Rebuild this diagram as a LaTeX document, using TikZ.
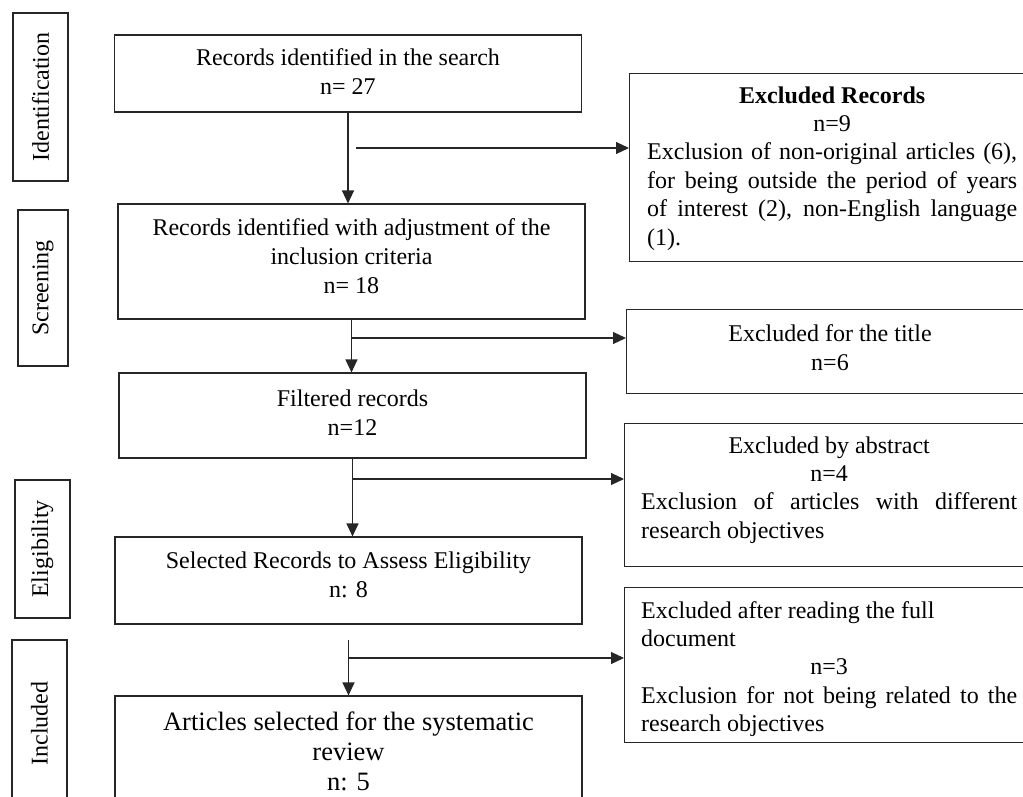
\documentclass[tikz,border=0pt]{standalone}
\usepackage{fontspec}
\setmainfont{Liberation Serif}
\usetikzlibrary{arrows.meta}
\tolerance=10000
\hbadness=10000
\hyphenpenalty=10000
\newcommand\lowpad[1]{\rule[-#1]{0pt}{#1}}
\newenvironment{exblock}[1]{\begin{minipage}[t]{#1}\fontsize{24}{28.4}\selectfont}{\end{minipage}}
\begin{document}
\begin{tikzpicture}[x=1pt,y=-1pt,
  every node/.style={font=\fontsize{24}{29}\selectfont},
  mainbox/.style={draw=black!85, line width=1.1pt, minimum width=467pt, align=center, inner sep=0pt},
  exbox/.style={draw=black!85, line width=1.1pt, minimum width=420pt, inner sep=0pt, anchor=north west},
  phase/.style={draw=black!85, line width=1.1pt, rotate=90, inner sep=0pt},
  extext/.style={inner sep=0pt, anchor=base west},
  flow/.style={draw=black!85, line width=1.1pt, -{Triangle[length=13pt,width=12pt]}},
]
\useasboundingbox (0,0) rectangle (1023,796);
\clip (0,0) rectangle (1023,796);

% phase labels
\node[phase, minimum width=168pt, minimum height=55pt] (p1) at (40.5,97) {Identification};
\node[phase, minimum width=156pt, minimum height=50pt] (p2) at (43,288) {Screening};
\node[phase, minimum width=138pt, minimum height=55pt] (p3) at (42.5,549) {Eligibility};
\node[phase, minimum width=167pt, minimum height=55pt] (p4) at (39.5,723.5) {Included};

% main flow boxes
\node[mainbox, minimum height=77pt] (b1) at (348,73.5) {Records identified in the search\\n= 27\lowpad{4pt}};
\node[mainbox, minimum height=115pt] (b2) at (351.5,261.5) {Records identified with adjustment of the\\inclusion criteria\\n= 18\lowpad{10pt}};
\node[mainbox, minimum height=85pt] (b3) at (352.5,415.5) {Filtered records\\n=12\lowpad{6pt}};
\node[mainbox, minimum height=87pt] (b4) at (348.5,580.5) {Selected Records to Assess Eligibility\\n: 8\lowpad{11pt}};
\node[mainbox, minimum height=110pt, font=\fontsize{26.5}{30}\selectfont] (b5) at (348.5,751) {Articles selected for the systematic\\review\\n: 5};

% exclusion boxes
\node[exbox, minimum height=188pt] (ex1) at (629,73) {};
\node[exbox, minimum height=84pt] (ex2) at (626,309) {};
\node[exbox, minimum height=143pt] (ex3) at (624,423) {};
\node[exbox, minimum height=155pt] (ex4) at (624,587) {};

\node[extext] (t1) at (647,103) {\begin{exblock}{370pt}{\centering\textbf{Excluded Records}\\ n=9\par}Exclusion of non-original articles (6),\linebreak for being outside the period of years\linebreak of interest (2), non-English language\linebreak (1).\end{exblock}};
\node[align=center, inner sep=0pt] (t2) at (830,348) {Excluded for the title\\n=6};
\node[extext] (t3) at (641,453) {\begin{exblock}{376pt}{\centering Excluded by abstract\\ n=4\par}Exclusion of articles with different\linebreak research objectives\end{exblock}};
\node[extext] (t4) at (641,618) {\begin{exblock}{376pt}Excluded after reading the full\\ document\par{\centering n=3\par}Exclusion for not being related to the\linebreak research objectives\end{exblock}};

% connectors
\draw[flow] (b1.south) -- (b1.south |- b2.north);
\coordinate (h1) at (356,148);
\draw[flow] (h1) -- (h1 -| ex1.west);

\draw[flow] (b2.south) -- (b2.south |- b3.north);
\coordinate (j2) at (351.5,338);
\draw[flow] (j2) -- (j2 -| ex2.west);

\draw[flow] (b3.south) -- (b3.south |- b4.north);
\coordinate (j3) at (352.5,479);
\draw[flow] (j3) -- (j3 -| ex3.west);

\coordinate (v4) at (348.5,640);
\draw[flow] (v4) -- (v4 |- b5.north);
\coordinate (j4) at (348.5,658);
\draw[flow] (j4) -- (j4 -| ex4.west);
\end{tikzpicture}
\end{document}
